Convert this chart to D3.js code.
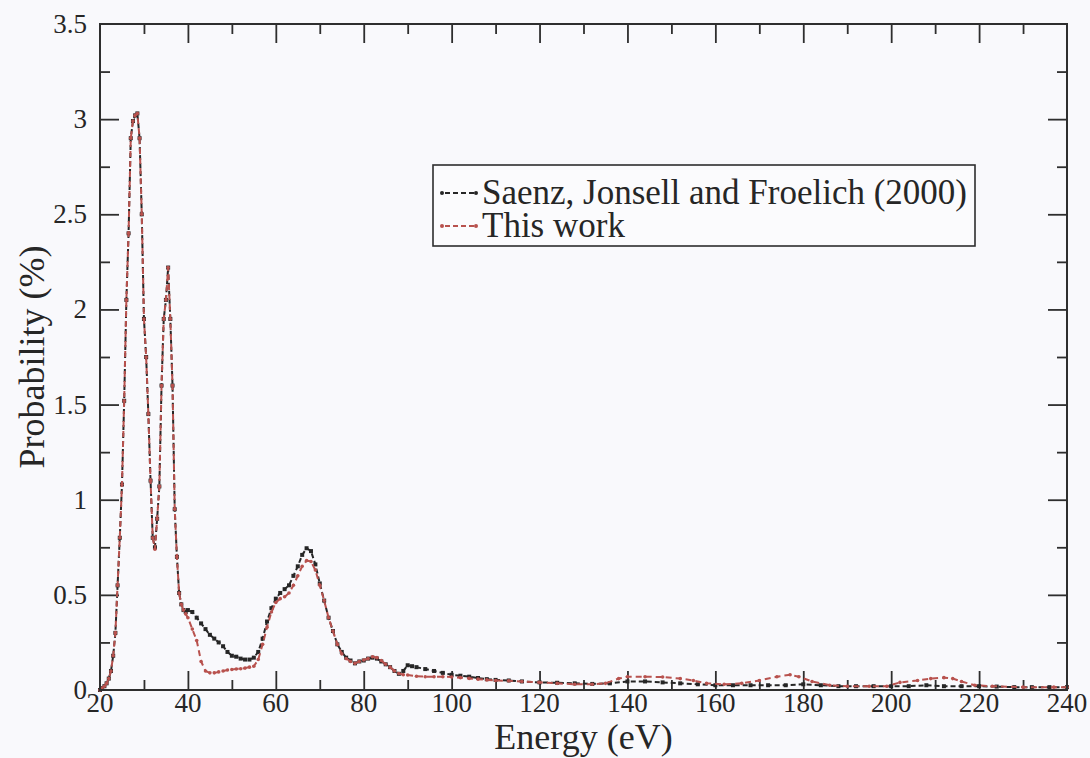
<!DOCTYPE html>
<html>
<head>
<meta charset="utf-8">
<script src="https://cdn.jsdelivr.net/npm/d3@7"></script>
<style>
  html, body { margin: 0; padding: 0; background: #f9f9fc; }
  svg { display: block; }
  text { font-family: "Liberation Serif", "Times New Roman", serif; fill: #262626; }
</style>
</head>
<body>
<svg id="chart" width="1090" height="758"></svg>
<script>
// ---- Data ----
const saenzE = [20,20.5,21,21.5,22,22.5,23,23.5,24,24.5,25,25.5,26,26.5,27,27.5,28,28.5,29,29.5,30,30.5,31,31.5,32,32.5,33,33.5,34,34.5,35,35.5,36,36.5,37,37.5,38,38.5,39,39.5,40,41,42,43,44,45,46,47,48,49,50,51,52,53,54,55,56,57,58,59,60,61,62,63,64,65,66,67,68,69,70,71,72,73,74,75,76,77,78,79,80,81,82,83,84,85,86,87,88,89,90,91,92,94,96,98,100,102,104,106,108,110,113,116,120,124,128,132,136,140,144,148,152,156,160,164,168,172,176,180,184,188,192,196,200,204,208,212,216,220,224,228,232,236,240];
const saenzP = [0,0.01,0.02,0.035,0.06,0.1,0.18,0.3,0.55,0.8,1.08,1.52,2.05,2.4,2.9,2.99,3.02,3.03,2.9,2.5,1.95,1.75,1.45,1.1,0.8,0.75,0.9,1.07,1.6,1.95,2.05,2.22,1.95,1.6,0.95,0.7,0.51,0.45,0.42,0.41,0.42,0.41,0.38,0.35,0.32,0.29,0.27,0.25,0.23,0.2,0.18,0.175,0.165,0.16,0.16,0.17,0.2,0.27,0.36,0.43,0.48,0.51,0.53,0.55,0.6,0.65,0.71,0.745,0.73,0.66,0.56,0.47,0.38,0.31,0.24,0.2,0.17,0.155,0.14,0.15,0.155,0.165,0.17,0.165,0.15,0.135,0.12,0.1,0.085,0.1,0.13,0.125,0.12,0.11,0.1,0.09,0.08,0.075,0.07,0.063,0.057,0.053,0.05,0.045,0.04,0.038,0.035,0.032,0.035,0.045,0.045,0.04,0.035,0.03,0.025,0.025,0.025,0.025,0.025,0.03,0.025,0.02,0.02,0.02,0.02,0.02,0.025,0.02,0.02,0.02,0.018,0.015,0.015,0.015,0.015];

const workE = [20,20.5,21,21.5,22,22.5,23,23.5,24,24.5,25,25.5,26,26.5,27,27.5,28,28.5,29,29.5,30,30.5,31,31.5,32,32.5,33,33.5,34,34.5,35,35.5,36,36.5,37,37.5,38,38.5,39,39.5,40,41,42,43,44,45,46,47,48,49,50,51,52,53,54,55,56,57,58,59,60,61,62,63,64,65,66,67,68,69,70,71,72,73,74,75,76,77,78,79,80,81,82,83,84,85,86,87,88,89,90,92,94,96,98,100,102,104,106,108,110,113,116,120,124,128,132,135,138,140,144,148,152,155,158,162,166,170,174,177,179,182,186,190,195,199,202,206,209,212,214,216,219,223,230,237,240];
const workP = [0,0.01,0.02,0.035,0.06,0.1,0.18,0.3,0.55,0.8,1.08,1.52,2.05,2.4,2.9,2.99,3.02,3.03,2.9,2.5,1.95,1.75,1.45,1.1,0.8,0.74,0.9,1.07,1.6,1.95,2.05,2.22,1.95,1.6,0.95,0.7,0.51,0.45,0.42,0.4,0.38,0.32,0.26,0.15,0.1,0.09,0.09,0.095,0.1,0.105,0.108,0.11,0.112,0.115,0.12,0.125,0.16,0.24,0.33,0.41,0.46,0.48,0.49,0.51,0.55,0.6,0.65,0.68,0.675,0.63,0.55,0.47,0.38,0.31,0.24,0.19,0.165,0.15,0.14,0.15,0.158,0.165,0.175,0.17,0.155,0.135,0.12,0.1,0.087,0.08,0.079,0.072,0.07,0.07,0.07,0.068,0.065,0.061,0.057,0.053,0.05,0.048,0.045,0.04,0.035,0.03,0.03,0.035,0.06,0.07,0.07,0.068,0.06,0.05,0.035,0.03,0.035,0.05,0.07,0.08,0.07,0.045,0.025,0.02,0.02,0.02,0.04,0.05,0.06,0.065,0.06,0.045,0.025,0.02,0.015,0.015,0.015];

const xTicks = [20,40,60,80,100,120,140,160,180,200,220,240];
const yTicks = [0,0.5,1,1.5,2,2.5,3,3.5];
const yTickLabels = ["0","0.5","1","1.5","2","2.5","3","3.5"];
const seriesNames = ["Saenz, Jonsell and Froelich (2000)", "This work"];
const xTitle = "Energy (eV)";
const yTitle = "Probability (%)";

// ---- Layout ----
const L = 100, R = 1067, T = 24, B = 690;
const svg = d3.select("#chart");
const x = d3.scaleLinear().domain([20, 240]).range([L, R]);
const y = d3.scaleLinear().domain([0, 3.5]).range([B, T]);

const frameColor = "#2e2e2e";
const blackCol = "#262626";
const redCol = "#b8524e";

// minor ticks
const xMinor = d3.range(30, 240, 20);
const yMinor = d3.range(0.25, 3.5, 0.5);

// Axes with inward ticks
const majorLen = 19, minorLen = 10;
function addAxis(axisFn, scale, tickVals, len, transform) {
  const g = svg.append("g").attr("transform", transform)
    .call(axisFn(scale).tickValues(tickVals).tickSize(len).tickFormat(""));
  g.select(".domain").remove();
  g.selectAll(".tick line").attr("stroke", frameColor).attr("stroke-width", 1.8);
  return g;
}
addAxis(d3.axisTop, x, xTicks.slice(1, -1), majorLen, `translate(0,${B})`);
addAxis(d3.axisTop, x, xMinor, minorLen, `translate(0,${B})`);
addAxis(d3.axisBottom, x, xTicks.slice(1, -1), majorLen, `translate(0,${T})`);
addAxis(d3.axisBottom, x, xMinor, minorLen, `translate(0,${T})`);
addAxis(d3.axisRight, y, yTicks.slice(1, -1), majorLen, `translate(${L},0)`);
addAxis(d3.axisRight, y, yMinor, minorLen, `translate(${L},0)`);
addAxis(d3.axisLeft, y, yTicks.slice(1, -1), majorLen, `translate(${R},0)`);
addAxis(d3.axisLeft, y, yMinor, minorLen, `translate(${R},0)`);

// Tick labels
svg.append("g").selectAll("text").data(xTicks).join("text")
  .attr("x", d => x(d)).attr("y", 712)
  .attr("text-anchor", "middle").attr("font-size", 27)
  .text(d => d);
svg.append("g").selectAll("text").data(yTicks).join("text")
  .attr("x", 87).attr("y", d => y(d) + 9)
  .attr("text-anchor", "end").attr("font-size", 27)
  .text((d, i) => yTickLabels[i]);

// Axis titles
svg.append("text").attr("x", (L + R) / 2).attr("y", 749)
  .attr("text-anchor", "middle").attr("font-size", 36).text(xTitle);
svg.append("text").attr("transform", `translate(44,${(T + B) / 2}) rotate(-90)`)
  .attr("text-anchor", "middle").attr("font-size", 36).text(yTitle);

// Data lines
const line = d3.line().x(d => x(d[0])).y(d => y(d[1]));
const saenz = saenzE.map((e, i) => [e, saenzP[i]]);
const work = workE.map((e, i) => [e, workP[i]]);

const plot = svg.append("g");
plot.append("path").datum(saenz).attr("d", line)
  .attr("fill", "none").attr("stroke", blackCol).attr("stroke-width", 2)
  .attr("stroke-dasharray", "5,3");
plot.append("g").selectAll("rect").data(saenz).join("rect")
  .attr("x", d => x(d[0]) - 2).attr("y", d => y(d[1]) - 2)
  .attr("width", 4).attr("height", 4).attr("fill", blackCol);

plot.append("path").datum(work).attr("d", line)
  .attr("fill", "none").attr("stroke", redCol).attr("stroke-width", 2)
  .attr("stroke-dasharray", "6,4").attr("stroke-dashoffset", 3);
plot.append("g").selectAll("circle").data(work).join("circle")
  .attr("cx", d => x(d[0])).attr("cy", d => y(d[1]))
  .attr("r", 1.8).attr("fill", redCol);

// Frame
svg.append("rect").attr("x", L).attr("y", T).attr("width", R - L).attr("height", B - T)
  .attr("fill", "none").attr("stroke", frameColor).attr("stroke-width", 2);

// Legend
const lg = svg.append("g");
lg.append("rect").attr("x", 433).attr("y", 165).attr("width", 542).attr("height", 81)
  .attr("fill", "#fbfbfd").attr("stroke", frameColor).attr("stroke-width", 1.6);
const legendCols = [blackCol, redCol];
seriesNames.forEach((name, i) => {
  const yy = 193 + i * 33;
  lg.append("line").attr("x1", 442).attr("x2", 476).attr("y1", yy).attr("y2", yy)
    .attr("stroke", legendCols[i]).attr("stroke-width", 2).attr("stroke-dasharray", "5,3")
    .attr("stroke-dashoffset", -3);
  lg.append("circle").attr("cx", 442).attr("cy", yy).attr("r", 2).attr("fill", legendCols[i]);
  lg.append("circle").attr("cx", 476).attr("cy", yy).attr("r", 2).attr("fill", legendCols[i]);
  lg.append("text").attr("x", 482).attr("y", yy + 11).attr("font-size", 35).text(name);
});
</script>
</body>
</html>
